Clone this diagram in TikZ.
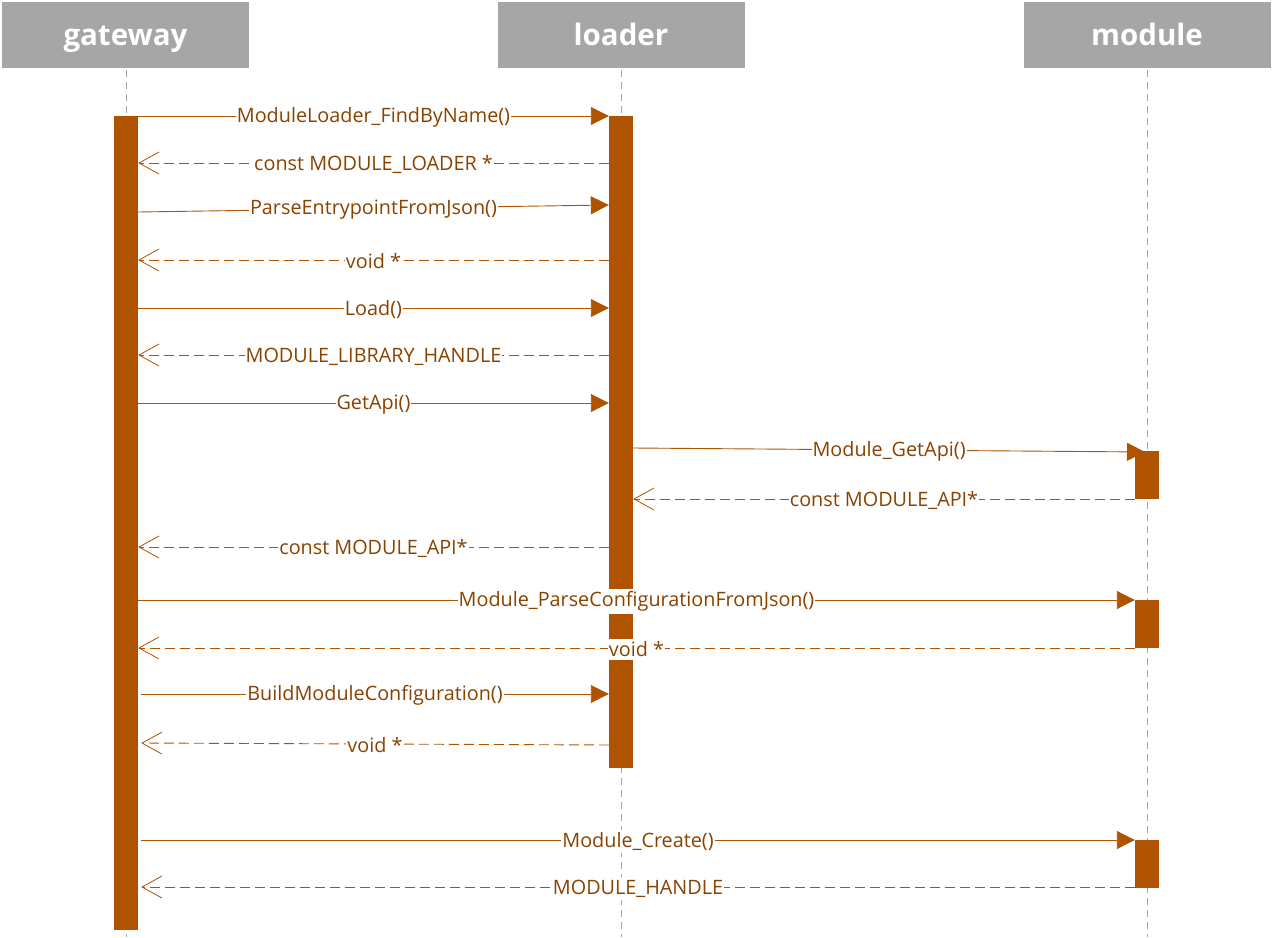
\documentclass[tikz,border=0pt]{standalone}
\usepackage{fontspec}
\setmainfont{Open Sans}
\usetikzlibrary{arrows.meta}
\definecolor{msgc}{HTML}{AF5300}
\definecolor{txtc}{HTML}{8A4200}
\definecolor{hdrc}{HTML}{A6A6A6}
\begin{document}
\begin{tikzpicture}[x=1pt,y=-1pt,
  hdr/.style={fill=hdrc, minimum width=247pt, minimum height=66pt, inner sep=0pt,
    text height=24pt, text depth=4pt,
    text=white, font=\bfseries\fontsize{29.5}{32}\selectfont},
  life/.style={draw=hdrc, dash pattern=on 7pt off 5pt, line width=0.8pt},
  actbar/.style={fill=msgc, inner sep=0pt, minimum width=24pt},
  call/.style={draw=msgc, line width=0.9pt, -{Triangle[length=18pt,width=18pt]}},
  ret/.style={draw=msgc, line width=0.9pt, dash pattern=on 10pt off 5pt,
    -{Straight Barb[length=20pt,width=22pt,line width=0.8pt]}},
  lbl/.style={fill=white, text=txtc, inner xsep=1pt, inner ysep=2.5pt,
    yshift=-1.5pt, font=\fontsize{19.8}{22}\selectfont}
]
\useasboundingbox (0,0) rectangle (1274,937);
% headers
\node[hdr] (gw) at (125.5,35) {gateway};
\node[hdr] (ld) at (621,35) {loader};
\node[hdr] (md) at (1147,35) {module};
% lifelines
\coordinate (gwE) at (126,937);
\coordinate (ldE) at (621,937);
\coordinate (mdE) at (1147,937);
\draw[life] ([yshift=-2pt]gw.south -| gwE) -- (gwE);
\draw[life] ([yshift=-2pt]ld.south -| ldE) -- (ldE);
\draw[life] ([yshift=-2pt]md.south -| mdE) -- (mdE);
% activation bars
\node[actbar, minimum height=814pt] (gwb) at (126,523) {};
\node[actbar, minimum height=652pt] (ldb) at (621,442) {};
\node[actbar, minimum height=48pt] (mdb1) at (1147,475) {};
\node[actbar, minimum height=48pt] (mdb2) at (1147,624) {};
\node[actbar, minimum height=48pt] (mdb3) at (1147,864) {};
% messages
\draw[call] (gwb.east |- 0,116) -- node[lbl] {ModuleLoader\_FindByName()} (ldb.west |- 0,116);
\draw[ret] (ldb.west |- 0,163) -- node[lbl] {const MODULE\_LOADER *} (gwb.east |- 0,163);
\draw[call] (gwb.east |- 0,212) -- node[lbl] {ParseEntrypointFromJson()} (ldb.west |- 0,205);
\draw[ret] (ldb.west |- 0,260) -- node[lbl] {void *} (gwb.east |- 0,260);
\draw[call] (gwb.east |- 0,308) -- node[lbl] {Load()} (ldb.west |- 0,308);
\draw[ret] (ldb.west |- 0,355) -- node[lbl] {MODULE\_LIBRARY\_HANDLE} (gwb.east |- 0,355);
\draw[call] (gwb.east |- 0,403) -- node[lbl] {GetApi()} (ldb.west |- 0,403);
\draw[call] (ldb.east |- 0,448) -- node[lbl] {Module\_GetApi()} ([xshift=-2pt]mdE |- 0,452);
\draw[ret] (mdb1.west |- 0,499) -- node[lbl] {const MODULE\_API*} (ldb.east |- 0,499);
\draw[ret] (ldb.west |- 0,547) -- node[lbl] {const MODULE\_API*} (gwb.east |- 0,547);
\draw[call] (gwb.east |- 0,600) -- node[lbl] {Module\_ParseConfigurationFromJson()} (mdb2.west |- 0,600);
\draw[ret] (mdb2.west |- 0,648) -- node[lbl] {void *} (gwb.east |- 0,648);
\draw[call] ([xshift=3pt]gwb.east |- 0,694) -- node[lbl] {BuildModuleConfiguration()} (ldb.west |- 0,694);
\draw[ret] (ldb.west |- 0,745) -- node[lbl] {void *} ([xshift=3pt]gwb.east |- 0,743);
\draw[call] ([xshift=3pt]gwb.east |- 0,840) -- node[lbl] {Module\_Create()} (mdb3.west |- 0,840);
\draw[ret] (mdb3.west |- 0,887) -- node[lbl] {MODULE\_HANDLE} ([xshift=3pt]gwb.east |- 0,887);
\end{tikzpicture}
\end{document}
